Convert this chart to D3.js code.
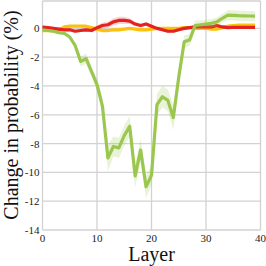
<!DOCTYPE html>
<html><head><meta charset="utf-8">
<script src="https://cdn.jsdelivr.net/npm/d3@7"></script>
<style>html,body{margin:0;padding:0;background:#fff;}svg{display:block;}</style>
</head><body>
<script>
const layers = d3.range(0, 40);
const green = [-0.1,-0.15,-0.2,-0.3,-0.35,-0.6,-1.2,-2.3,-2.1,-3.0,-3.9,-5.4,-9.0,-8.2,-8.3,-7.45,-6.8,-10.25,-8.45,-11.0,-10.2,-5.3,-4.75,-5.0,-6.2,-3.4,-0.93,-0.8,0.2,0.25,0.3,0.35,0.45,0.7,0.92,0.9,0.88,0.87,0.86,0.85];
const greenErr = [0.1,0.1,0.1,0.1,0.1,0.15,0.2,0.35,0.35,0.35,0.4,0.6,0.9,0.7,0.7,0.7,0.7,0.8,0.8,0.8,0.7,0.75,0.75,0.75,0.85,0.6,0.45,0.4,0.35,0.3,0.3,0.3,0.3,0.3,0.35,0.35,0.35,0.35,0.35,0.35];
const red = [0.08,0.05,0.0,-0.05,-0.1,-0.1,-0.2,-0.15,-0.1,-0.15,0.05,0.2,0.25,0.45,0.55,0.55,0.5,0.3,0.2,0.3,0.15,0.0,-0.1,-0.2,-0.2,-0.1,0.0,0.05,0.1,0.1,0.1,0.1,0.2,0.1,0.05,0.07,0.07,0.07,0.07,0.07];
const redErr = [0.1,0.1,0.1,0.1,0.1,0.1,0.1,0.1,0.1,0.1,0.12,0.2,0.2,0.25,0.25,0.25,0.2,0.15,0.12,0.12,0.1,0.1,0.1,0.1,0.1,0.1,0.1,0.1,0.1,0.1,0.1,0.1,0.1,0.1,0.1,0.1,0.1,0.1,0.1,0.1];
const yellow = [-0.15,-0.15,-0.15,-0.1,0.1,0.15,0.15,0.15,0.15,0.05,-0.05,-0.15,-0.15,-0.1,-0.1,-0.05,0.0,-0.05,-0.1,-0.1,-0.05,0.0,0.0,0.0,0.0,0.0,0.05,0.05,0.0,0.0,0.0,-0.05,-0.05,0.05,0.15,0.2,0.22,0.22,0.22,0.22];
const yellowErr = layers.map(() => 0.08);
const xTicks = [0,10,20,30,40];
const yTicks = [0,-2,-4,-6,-8,-10,-12,-14];

const W = 266, H = 266;
const svg = d3.select("body").append("svg").attr("width", W).attr("height", H);
const x = d3.scaleLinear().domain([0, 40]).range([42.5, 260.5]);
const y = d3.scaleLinear().domain([-14, 1.9]).range([230, 1]);
const font = "'Liberation Serif', 'Times New Roman', serif";

// grid
const g = svg.append("g");
g.selectAll(".vg").data(xTicks).join("line")
  .attr("x1", d => x(d)).attr("x2", d => x(d)).attr("y1", y(1.9)).attr("y2", y(-14))
  .attr("stroke", "#d2d2d2").attr("stroke-width", 1.3);
g.selectAll(".hg").data(yTicks).join("line")
  .attr("x1", x(0)).attr("x2", x(40)).attr("y1", d => y(d)).attr("y2", d => y(d))
  .attr("stroke", "#d2d2d2").attr("stroke-width", 1.3);
g.append("line").attr("x1", x(0)).attr("x2", x(40)).attr("y1", y(1.9)).attr("y2", y(1.9))
  .attr("stroke", "#d2d2d2").attr("stroke-width", 1.3);

const series = [
  {vals: yellow, err: yellowErr, color: "#fbc20d", band: "rgba(251,194,13,0.25)"},
  {vals: red, err: redErr, color: "#e4221f", band: "rgba(228,34,31,0.2)"},
  {vals: green, err: greenErr, color: "#9cc74f", band: "rgba(156,199,79,0.22)"}
];
const area = d3.area().x((d, i) => x(layers[i])).y0(d => y(d[0])).y1(d => y(d[1]));
const line = d3.line().x((d, i) => x(layers[i])).y(d => y(d));
series.forEach(s => {
  svg.append("path").datum(s.vals.map((v, i) => [v - s.err[i], v + s.err[i]]))
    .attr("d", area).attr("fill", s.band);
  svg.append("path").datum(s.vals).attr("d", line)
    .attr("fill", "none").attr("stroke", s.color).attr("stroke-width", 3.2)
    .attr("stroke-linejoin", "round");
});

// tick labels
svg.selectAll(".xt").data(xTicks).join("text")
  .attr("x", d => x(d)).attr("y", 242).attr("text-anchor", "middle")
  .attr("font-family", font).attr("font-size", 11).attr("fill", "#222").text(d => d);
svg.selectAll(".yt").data(yTicks).join("text")
  .attr("x", 39.5).attr("y", d => y(d) + 4).attr("text-anchor", "end")
  .attr("font-family", font).attr("font-size", 11).attr("fill", "#222").text(d => d);

svg.append("text").attr("x", 151.5).attr("y", 261).attr("text-anchor", "middle")
  .attr("font-family", font).attr("font-size", 20).attr("fill", "#111").text("Layer");
svg.append("text").attr("transform", "translate(18,115) rotate(-90)").attr("text-anchor", "middle")
  .attr("font-family", font).attr("font-size", 20).attr("fill", "#111").text("Change in probability (%)");
</script>
</body></html>
